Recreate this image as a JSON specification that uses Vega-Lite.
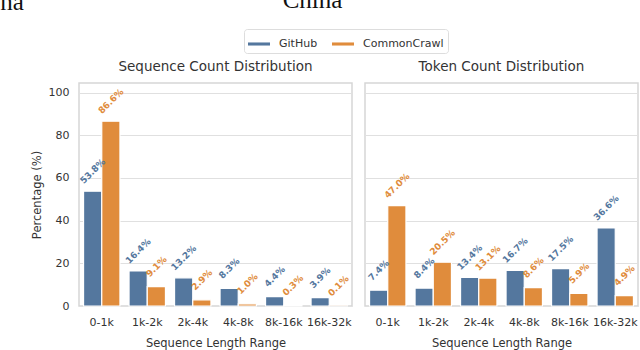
{
  "$schema": "https://vega.github.io/schema/vega-lite/v6.json",
  "padding": {"left": 0, "top": -13, "right": 0, "bottom": 2},
  "background": "white",
  "title": {"text": "na", "font": "Liberation Serif", "fontSize": 25, "fontWeight": "normal", "color": "#111", "anchor": "start", "frame": "bounds", "dx": -30, "dy": 27, "offset": 0},
  "datasets": {
    "seq": [
      {"range": "0-1k", "source": "GitHub", "value": 53.8, "label": "53.8%"},
      {"range": "0-1k", "source": "CommonCrawl", "value": 86.6, "label": "86.6%"},
      {"range": "1k-2k", "source": "GitHub", "value": 16.4, "label": "16.4%"},
      {"range": "1k-2k", "source": "CommonCrawl", "value": 9.1, "label": "9.1%"},
      {"range": "2k-4k", "source": "GitHub", "value": 13.2, "label": "13.2%"},
      {"range": "2k-4k", "source": "CommonCrawl", "value": 2.9, "label": "2.9%"},
      {"range": "4k-8k", "source": "GitHub", "value": 8.3, "label": "8.3%"},
      {"range": "4k-8k", "source": "CommonCrawl", "value": 1.0, "label": "1.0%"},
      {"range": "8k-16k", "source": "GitHub", "value": 4.4, "label": "4.4%"},
      {"range": "8k-16k", "source": "CommonCrawl", "value": 0.3, "label": "0.3%"},
      {"range": "16k-32k", "source": "GitHub", "value": 3.9, "label": "3.9%"},
      {"range": "16k-32k", "source": "CommonCrawl", "value": 0.1, "label": "0.1%"}
    ],
    "tok": [
      {"range": "0-1k", "source": "GitHub", "value": 7.4, "label": "7.4%"},
      {"range": "0-1k", "source": "CommonCrawl", "value": 47.0, "label": "47.0%"},
      {"range": "1k-2k", "source": "GitHub", "value": 8.4, "label": "8.4%"},
      {"range": "1k-2k", "source": "CommonCrawl", "value": 20.5, "label": "20.5%"},
      {"range": "2k-4k", "source": "GitHub", "value": 13.4, "label": "13.4%"},
      {"range": "2k-4k", "source": "CommonCrawl", "value": 13.1, "label": "13.1%"},
      {"range": "4k-8k", "source": "GitHub", "value": 16.7, "label": "16.7%"},
      {"range": "4k-8k", "source": "CommonCrawl", "value": 8.6, "label": "8.6%"},
      {"range": "8k-16k", "source": "GitHub", "value": 17.5, "label": "17.5%"},
      {"range": "8k-16k", "source": "CommonCrawl", "value": 5.9, "label": "5.9%"},
      {"range": "16k-32k", "source": "GitHub", "value": 36.6, "label": "36.6%"},
      {"range": "16k-32k", "source": "CommonCrawl", "value": 4.9, "label": "4.9%"}
    ]
  },
  "config": {
    "font": "DejaVu Sans",
    "view": {"stroke": "#d6d6d6", "strokeWidth": 1.5},
    "axis": {
      "labelFont": "DejaVu Sans", "labelFontSize": 11, "labelColor": "#333",
      "titleFont": "DejaVu Sans", "titleFontSize": 11.5, "titleFontWeight": "normal", "titleColor": "#333",
      "gridColor": "#e0e0e0", "gridWidth": 1.2, "domain": false, "ticks": false
    },
    "title": {"font": "DejaVu Sans", "fontSize": 13.5, "fontWeight": "normal", "color": "#333", "offset": 10},
    "concat": {"spacing": 11},
    "legend": {
      "orient": "none", "direction": "horizontal", "legendX": 165, "legendY": -54,
      "title": null, "labelFontSize": 11, "labelColor": "#333", "labelFont": "DejaVu Sans",
      "symbolType": "M-1,-0.14L1,-0.14L1,0.14L-1,0.14Z", "symbolSize": 484, "symbolStrokeWidth": 0,
      "strokeColor": "#dddddd", "padding": 4, "cornerRadius": 3, "columnPadding": 14, "labelOffset": 9, "fillColor": "white"
    }
  },
  "vconcat": [
    {
      "title": {"text": "China", "font": "Liberation Serif", "fontSize": 25, "fontWeight": "normal", "color": "#111", "anchor": "middle", "dx": -22, "offset": 46},
      "hconcat": [
        {
          "title": "Sequence Count Distribution",
          "width": 273, "height": 223,
          "data": {"name": "seq"},
          "encoding": {
            "x": {"field": "range", "type": "nominal", "sort": ["0-1k", "1k-2k", "2k-4k", "4k-8k", "8k-16k", "16k-32k"],
                  "scale": {"paddingInner": 0.2, "paddingOuter": 0.1},
                  "axis": {"labelAngle": 0, "labelPadding": 10, "title": "Sequence Length Range", "titlePadding": 10}},
            "xOffset": {"field": "source", "type": "nominal", "sort": ["GitHub", "CommonCrawl"]},
            "y": {"field": "value", "type": "quantitative", "scale": {"domain": [0, 104.5], "nice": false},
                  "axis": {"values": [0, 20, 40, 60, 80, 100], "title": "Percentage (%)", "labelPadding": 10, "titlePadding": 6}},
            "color": {"field": "source", "type": "nominal", "sort": ["GitHub", "CommonCrawl"],
                      "scale": {"domain": ["GitHub", "CommonCrawl"], "range": ["#54779e", "#e08c3c"]}}
          },
          "layer": [
            {"mark": {"type": "bar", "stroke": "white", "strokeWidth": 1.2}},
            {"mark": {"type": "text", "angle": -45, "fontWeight": "bold", "fontSize": 9, "align": "center", "baseline": "middle", "yOffset": -20},
             "encoding": {"text": {"field": "label"}}}
          ]
        },
        {
          "title": "Token Count Distribution",
          "width": 273, "height": 223,
          "data": {"name": "tok"},
          "encoding": {
            "x": {"field": "range", "type": "nominal", "sort": ["0-1k", "1k-2k", "2k-4k", "4k-8k", "8k-16k", "16k-32k"],
                  "scale": {"paddingInner": 0.2, "paddingOuter": 0.1},
                  "axis": {"labelAngle": 0, "labelPadding": 10, "title": "Sequence Length Range", "titlePadding": 10}},
            "xOffset": {"field": "source", "type": "nominal", "sort": ["GitHub", "CommonCrawl"]},
            "y": {"field": "value", "type": "quantitative", "scale": {"domain": [0, 104.5], "nice": false},
                  "axis": {"values": [0, 20, 40, 60, 80, 100], "labels": false, "title": null}},
            "color": {"field": "source", "type": "nominal", "sort": ["GitHub", "CommonCrawl"],
                      "scale": {"domain": ["GitHub", "CommonCrawl"], "range": ["#54779e", "#e08c3c"]}}
          },
          "layer": [
            {"mark": {"type": "bar", "stroke": "white", "strokeWidth": 1.2}},
            {"mark": {"type": "text", "angle": -45, "fontWeight": "bold", "fontSize": 9, "align": "center", "baseline": "middle", "yOffset": -20},
             "encoding": {"text": {"field": "label"}}}
          ]
        }
      ]
    }
  ],
  "resolve": {"scale": {"color": "shared"}}
}
